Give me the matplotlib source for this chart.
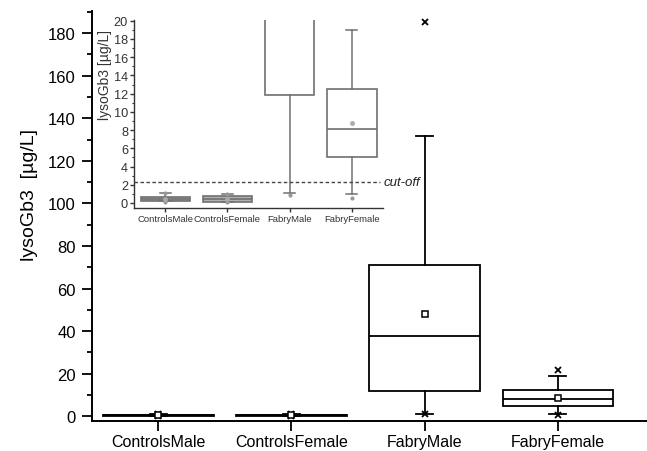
import matplotlib
matplotlib.use("Agg")
import matplotlib.pyplot as plt
from matplotlib.ticker import MultipleLocator

plt.rcParams['font.family'] = ['Liberation Sans', 'DejaVu Sans']

categories = ["ControlsMale", "ControlsFemale", "FabryMale", "FabryFemale"]
whislo = [0.2, 0.15, 1.06, 0.95]
q1 = [0.2, 0.15, 11.9, 5.0]
med = [0.45, 0.45, 37.7, 8.07]
q3 = [0.62, 0.73, 71.2, 12.5]
whishi = [1.1, 1.0, 131.9, 19.0]
means = [0.45, 0.45, 48.1, 8.8]
fliers = [[1.1, 0.15], [1.0, 0.12], [185.2, 0.85], [21.8, 0.5]]
cutoff = 2.3

main_ticks = list(range(0, 181, 20))
inset_ticks = list(range(0, 21, 2))


def stats():
    out = []
    for i, c in enumerate(categories):
        out.append(dict(label=c, whislo=whislo[i], q1=q1[i], med=med[i],
                        q3=q3[i], whishi=whishi[i], mean=means[i],
                        fliers=fliers[i]))
    return out


fig = plt.figure(figsize=(6.47, 4.52), dpi=100)
ax = fig.add_axes([0.1417, 0.0657, 0.8583, 0.9071])

lw = 1.3
ax.bxp(stats(), positions=[1, 2, 3, 4], widths=0.83, showmeans=True,
       patch_artist=True, showcaps=True, capwidths=0.13,
       boxprops=dict(facecolor='white', edgecolor='black', linewidth=lw),
       medianprops=dict(color='black', linewidth=lw),
       whiskerprops=dict(color='black', linewidth=lw),
       capprops=dict(color='black', linewidth=lw),
       meanprops=dict(marker='s', markerfacecolor='white', markeredgecolor='black',
                      markersize=4.5, markeredgewidth=1.1),
       flierprops=dict(marker='x', markeredgecolor='black', markersize=5,
                       markeredgewidth=1.3))
ax.set_xlim(0.5, 4.67)
ax.set_ylim(-2.35, 190.3)
ax.set_yticks(main_ticks)
ax.set_yticklabels([str(t) for t in main_ticks], fontsize=12)
ax.yaxis.set_minor_locator(MultipleLocator(10))
ax.set_xticks([1, 2, 3, 4])
ax.set_xticklabels(categories, fontsize=11.5)
for s in ['top', 'right']:
    ax.spines[s].set_visible(False)
for s in ['left', 'bottom']:
    ax.spines[s].set_linewidth(1.4)
ax.tick_params(axis='y', which='major', direction='out', length=7, width=1.3, pad=4.5)
ax.tick_params(axis='x', which='major', direction='out', length=7, width=1.3, pad=2.5)
ax.tick_params(axis='y', which='minor', direction='out', length=3.5, width=1.3)
ax.set_ylabel("lysoGb3  [µg/L]", fontsize=14)
ax.yaxis.set_label_coords(-0.097, 0.555)

# inset
gray = '#707070'
ins = fig.add_axes([0.2076, 0.5376, 0.384, 0.4164])
ins.patch.set_alpha(0)
bp = ins.bxp(stats(), positions=[1, 2, 3, 4], widths=0.8, showmeans=True,
             patch_artist=True, capwidths=0.17,
             boxprops=dict(facecolor='white', edgecolor=gray, linewidth=1.2),
             medianprops=dict(color=gray, linewidth=1.2),
             whiskerprops=dict(color=gray, linewidth=1.1),
             capprops=dict(color=gray, linewidth=1.1),
             meanprops=dict(marker='o', markerfacecolor='#aaaaaa', markeredgecolor='#aaaaaa',
                            markersize=2.5),
             flierprops=dict(marker='o', markerfacecolor='#999999', markeredgecolor='#999999',
                             markersize=2))
for b in bp['boxes'][:2]:
    b.set_facecolor('#b0b0b0')
ins.axhline(cutoff, xmin=0, xmax=(4.46 - 0.5) / 4.0, color='#444444', linestyle=(0, (2.5, 1.8)),
            linewidth=1.0)
ins.text(4.52, cutoff, "cut-off", fontsize=9.5, style='italic', va='center', ha='left',
         color='#222222', clip_on=False)
ins.set_xlim(0.5, 4.5)
ins.set_ylim(-0.55, 20.1)
ins.set_yticks(inset_ticks)
ins.set_yticklabels([str(t) for t in inset_ticks], fontsize=9.2)
ins.yaxis.set_minor_locator(MultipleLocator(1))
ins.set_xticks([1, 2, 3, 4])
ins.set_xticklabels(categories, fontsize=6.8, color='#333333')
for s in ['top', 'right']:
    ins.spines[s].set_visible(False)
for s in ['left', 'bottom']:
    ins.spines[s].set_linewidth(1.0)
    ins.spines[s].set_color('#333333')
ins.tick_params(axis='both', which='major', direction='out', length=3, width=1.0, pad=1.5,
                colors='#333333')
ins.tick_params(axis='y', which='minor', direction='out', length=1.8, width=0.8, colors='#333333')
ins.set_ylabel("lysoGb3 [µg/L]", fontsize=10, color='#333333')
ins.yaxis.set_label_coords(-0.088, 0.71)

fig.savefig("out.png", dpi=100)
